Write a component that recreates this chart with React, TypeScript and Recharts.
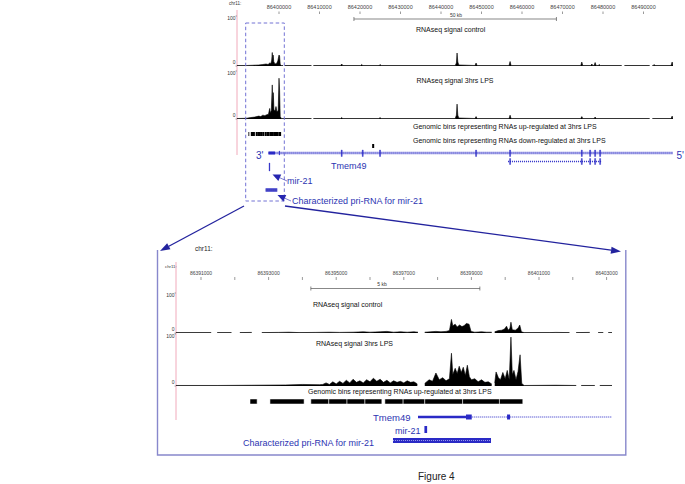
import React from "react";
import { ComposedChart, Area, XAxis, YAxis, ReferenceArea, ReferenceLine } from "recharts";

// ---------------- data ----------------
// genomic windows (chr11)
const topDomain = [86389630, 86497280];
const botDomain = [86390260, 86403160];

const topTicks = [86400000, 86410000, 86420000, 86430000, 86440000, 86450000, 86460000, 86470000, 86480000, 86490000];
const topTickLabels = topTicks;
const botTicks = [86391000, 86392000, 86393000, 86394000, 86395000, 86396000, 86397000, 86398000, 86399000, 86400000, 86401000, 86402000, 86403000];
const botTickLabels = [86391000, 86393000, 86395000, 86397000, 86399000, 86401000, 86403000];

const topScaleBar = [86418500, 86468500]; // 50 kb
const botScaleBar = [86394250, 86399250]; // 5 kb

// RNAseq signal, [position, value 0-100]; null = no coverage
const topCtrl: [number, number | null][] = [
  [86389630, 1], [86392000, 1], [86393500, 1.5], [86395000, 2], [86396000, 3], [86396800, 4], [86397300, 3],
  [86397700, 6], [86398000, 5], [86398200, 12], [86398340, 27], [86398450, 10], [86398550, 22], [86398700, 9],
  [86399000, 4], [86399400, 5], [86399700, 10], [86400000, 22], [86400150, 20], [86400300, 3], [86400600, 1],
  [86401000, 1], [86401100, null], [86401400, 1], [86408000, 1], [86408200, null], [86408500, 1],
  [86415200, 1], [86415485, 4], [86415750, 1], [86420150, 1], [86420425, 3], [86420700, 1],
  [86424700, 1], [86424945, 3], [86425200, 1], [86443500, 1], [86443800, 6], [86443964, 26], [86444150, 8],
  [86444400, 2], [86448400, 1], [86448657, 6], [86448900, 1], [86456800, 1], [86457055, 9], [86457300, 1],
  [86474500, 1], [86474765, 8], [86475000, 1], [86477000, 1], [86477235, 4], [86477500, 1], [86477800, 1],
  [86478050, 7], [86478300, 1], [86478800, 1], [86479038, 3], [86479300, 1], [86484600, 1], [86484700, null],
  [86485300, 1], [86491500, 1], [86491600, null], [86492200, 1], [86492400, 1], [86492623, 3], [86492850, 1],
  [86496800, 1], [86497069, 8], [86497280, 1],
];
const topLps: [number, number | null][] = [
  [86389630, 1], [86392000, 1.5], [86393000, 3], [86394000, 4], [86395000, 6], [86395500, 5], [86396000, 8],
  [86396500, 7], [86397000, 9], [86397400, 10], [86397700, 22], [86397900, 12], [86398100, 18], [86398340, 71],
  [86398450, 30], [86398590, 55], [86398750, 20], [86399000, 16], [86399257, 26], [86399500, 15], [86399800, 18],
  [86400000, 85], [86400150, 60], [86400300, 5], [86400600, 1], [86408000, 1], [86408200, null], [86408500, 1],
  [86415200, 1], [86415485, 3], [86415750, 1], [86424700, 1], [86424945, 3], [86425200, 1],
  [86443500, 1], [86443800, 8], [86443964, 31], [86444150, 8], [86444400, 2], [86448400, 1], [86448657, 5],
  [86448900, 1], [86456800, 1], [86457055, 8], [86457300, 1], [86474500, 1], [86474765, 5], [86475000, 1],
  [86477800, 1], [86478050, 4], [86478300, 1], [86491500, 1], [86491600, null], [86492200, 1],
  [86496800, 1], [86497069, 6], [86497280, 1],
];
const botCtrl: [number, number | null][] = [
  [86390260, 1], [86391300, 1], [86391350, null], [86391480, 1], [86391900, 1], [86392000, null], [86392150, 1],
  [86392500, 1.5], [86392700, null], [86392800, 1], [86393300, 1.5], [86393600, 2], [86393900, 1], [86394400, 1.5],
  [86394800, 2], [86395100, 1.5], [86395500, 2], [86395800, 3], [86396000, 2], [86396300, 3], [86396500, 4],
  [86396700, 2], [86396900, 3], [86397100, 2], [86397300, 3], [86397420, 2], [86397450, null], [86397620, 2],
  [86397800, 3], [86397950, 4], [86398100, 3], [86398250, 4], [86398350, 6], [86398410, 34], [86398450, 18],
  [86398520, 22], [86398580, 15], [86398650, 20], [86398720, 16], [86398780, 18], [86398850, 24], [86398930, 22],
  [86398990, 4], [86399100, 2], [86399300, 3], [86399450, 2], [86399600, 2], [86399630, null], [86399690, 3],
  [86399800, 6], [86399900, 7], [86399980, 10], [86400040, 17], [86400090, 7], [86400140, 12], [86400170, 27],
  [86400210, 8], [86400300, 7], [86400380, 12], [86400430, 20], [86400480, 3], [86400560, 1], [86401300, 1],
  [86401500, 1.5], [86401900, 1], [86402000, null], [86402100, 1], [86402500, 1.5], [86402600, null],
  [86402750, 1], [86402900, 1], [86402950, null], [86403050, 1], [86403160, 1],
];
const botLps: [number, number | null][] = [
  [86390260, 1], [86391500, 1], [86392500, 1.5], [86393500, 2], [86394000, 3], [86394500, 2.5], [86394600, 3],
  [86394700, 6], [86394800, 3], [86394900, 8], [86395000, 4], [86395100, 9], [86395200, 5], [86395300, 11],
  [86395400, 6], [86395500, 13], [86395600, 7], [86395700, 10], [86395800, 6], [86395900, 12], [86396000, 8],
  [86396100, 15], [86396200, 9], [86396300, 13], [86396400, 7], [86396500, 11], [86396600, 6], [86396700, 10],
  [86396800, 7], [86396900, 9], [86397000, 6], [86397100, 10], [86397200, 7], [86397300, 8],
  [86397400, 4], [86397440, null], [86397620, 5], [86397750, 12], [86397850, 9], [86397950, 25], [86398050, 12],
  [86398150, 16], [86398250, 10], [86398350, 14], [86398410, 63], [86398450, 22], [86398520, 34], [86398580, 24],
  [86398640, 38], [86398700, 26], [86398760, 36], [86398820, 20], [86398880, 40], [86398940, 18], [86399000, 12],
  [86399100, 14], [86399200, 8], [86399300, 12], [86399400, 7], [86399500, 8], [86399600, 4], [86399640, null],
  [86399690, 6], [86399730, 27], [86399800, 16], [86399860, 12], [86399930, 26], [86400000, 14], [86400060, 30],
  [86400120, 12], [86400170, 94], [86400210, 22], [86400260, 30], [86400320, 12], [86400380, 28], [86400440, 60],
  [86400490, 5], [86400560, 1], [86401500, 1.5], [86402100, 1], [86402150, null], [86402250, 1], [86402650, 1],
  [86402700, null], [86402800, 1], [86403160, 1],
];

// genomic bins (up / down regulated at 3hrs LPS)
const upBins: [number, number][] = [
  [86392450, 86392660], [86393040, 86394050], [86394250, 86394780], [86394780, 86395320], [86395320, 86395850],
  [86395850, 86396350], [86396440, 86396980], [86396980, 86397620], [86397620, 86398740], [86398740, 86399830],
  [86399830, 86400520],
];
const downBins: [number, number][] = [[86423000, 86423500]];

// Tmem49 gene model
const tmemStart = 86397420;
const tmemUtr: [number, number] = [86397420, 86398840];
const tmemCds: [number, number][] = [[86398840, 86399010], [86400055, 86400145]];
const tmemExonsTop = [86415485, 86420672, 86424945, 86448657, 86457055, 86474765, 86476815, 86478050, 86479285];
const tmemAlt: [number, number] = [86456561, 86479532];
const tmemAltExons = [86457055, 86474765, 86476815, 86478050, 86479285];
const mir21: [number, number] = [86397610, 86397690];
const priRna: [number, number] = [86396680, 86399580];

// ---------------- style ----------------
const FONT = "'Liberation Sans', Arial, Helvetica, sans-serif";
const BLUE = "#2a2ac6";
const TBLUE = "#2c34b2";
const PINK = "#f1aabb";
const W = 685;

const YTick = (props: any) => {
  const { x, y, payload } = props;
  const dy = payload.value === 0 ? -2 : 3.6;
  return (
    <g>
      <text x={x - 1.5} y={y + dy} textAnchor="end" fontSize={5} fill="#333" fontFamily={FONT}>{payload.value}</text>
      <line x1={x - 1.5} x2={x} y1={y} y2={y} stroke="#555" strokeWidth={0.5} />
    </g>
  );
};

const makeRulerTick = (labels: number[], labelY: number, t1: number, t2: number, fs: number) => (props: any) => {
  const { x, payload } = props;
  const v = payload.value;
  return (
    <g>
      <line x1={x} x2={x} y1={t1} y2={t2} stroke="#555" strokeWidth={0.6} />
      {labels.includes(v) && (
        <text x={x} y={labelY} textAnchor="middle" fontSize={fs} fill="#444" fontFamily={FONT}>{v}</text>
      )}
    </g>
  );
};
const TopRulerTick = makeRulerTick(topTickLabels, 8.8, 11.5, 14, 5.5);
const BotRulerTick = makeRulerTick(botTickLabels, 275, 277, 280, 5);

function Signal({ data, top, height, left, right, domain }: any) {
  const rows = data.map(([pos, v]: [number, number | null]) => ({ pos, v }));
  return (
    <div style={{ position: "absolute", left: 0, top, width: W, height }}>
      <ComposedChart width={W} height={height} data={rows} margin={{ top: 6, right, bottom: 4, left: 0 }}>
        <XAxis dataKey="pos" type="number" domain={domain} hide allowDataOverflow />
        <YAxis type="number" domain={[0, 100]} ticks={[0, 100]} width={left} tick={YTick} axisLine={false}
          tickLine={false} tickSize={0} tickMargin={0} interval={0} allowDataOverflow />
        <Area dataKey="v" type="linear" stroke="#000" strokeWidth={0.6} fill="#000" fillOpacity={1}
          isAnimationActive={false} connectNulls={false} dot={false} activeDot={false} />
      </ComposedChart>
    </div>
  );
}

function Arrow({ x1, y1, x2, y2, color, head = 9, w = 7, sw = 1.2 }: any) {
  const dx = x2 - x1, dy = y2 - y1, L = Math.hypot(dx, dy), ux = dx / L, uy = dy / L;
  const bx = x2 - ux * head, by = y2 - uy * head;
  const px = (-uy * w) / 2, py = (ux * w) / 2;
  return (
    <g>
      <line x1={x1} y1={y1} x2={bx} y2={by} stroke={color} strokeWidth={sw} />
      <polygon points={`${x2},${y2} ${bx + px},${by + py} ${bx - px},${by - py}`} fill={color} />
    </g>
  );
}

const T = ({ x, y, fs = 7, fill = "#111", children, anchor = "start" }: any) => (
  <text x={x} y={y} fontSize={fs} fill={fill} fontFamily={FONT} textAnchor={anchor}>{children}</text>
);

export default function App() {
  return (
    <div style={{ position: "absolute", left: 0, top: 0, width: W, height: 484, background: "#fff", fontFamily: FONT, overflow: "hidden" }}>
      {/* ---------- top panel frame ---------- */}
      <div style={{ position: "absolute", left: 0, top: 0, width: W, height: 215 }}>
        <ComposedChart width={W} height={215} margin={{ top: 0, right: 12, bottom: 0, left: 237 }}>
          <XAxis type="number" dataKey="pos" orientation="top" height={1} domain={topDomain} ticks={topTicks}
            interval={0} tick={TopRulerTick} axisLine={false} tickLine={false} tickSize={0} tickMargin={0} allowDataOverflow />
          <YAxis type="number" domain={[1, 215]} reversed hide allowDataOverflow />
          <ReferenceLine segment={[{ x: topDomain[0], y: 10 }, { x: topDomain[0], y: 155 }]} stroke={PINK} strokeWidth={1} />
          <ReferenceLine segment={[{ x: topScaleBar[0], y: 19 }, { x: topScaleBar[1], y: 19 }]} stroke="#555" strokeWidth={0.7} />
          <ReferenceLine segment={[{ x: topScaleBar[0], y: 17 }, { x: topScaleBar[0], y: 21 }]} stroke="#555" strokeWidth={0.7} />
          <ReferenceLine segment={[{ x: topScaleBar[1], y: 17 }, { x: topScaleBar[1], y: 21 }]} stroke="#555" strokeWidth={0.7} />
          {upBins.map(([a, b], i) => (
            <ReferenceArea key={"ub" + i} x1={a} x2={b} y1={132} y2={136} fill="#000" fillOpacity={1} stroke="none" />
          ))}
          {downBins.map(([a, b], i) => (
            <ReferenceArea key={"db" + i} x1={a} x2={b} y1={144} y2={148} fill="#000" fillOpacity={1} stroke="none" />
          ))}
          <ReferenceLine segment={[{ x: tmemStart, y: 153 }, { x: topDomain[1], y: 153 }]} stroke={BLUE} strokeWidth={2.4} strokeDasharray="1 1" />
          <ReferenceArea x1={tmemUtr[0]} x2={tmemCds[0][1]} y1={151.5} y2={154.5} fill={BLUE} fillOpacity={1} stroke="none" />
          <ReferenceArea x1={tmemCds[1][0]} x2={tmemCds[1][1]} y1={151} y2={155} fill={BLUE} fillOpacity={1} stroke={BLUE} strokeWidth={0.6} />
          {tmemExonsTop.map((p, i) => (
            <ReferenceArea key={"te" + i} x1={p - 120} x2={p + 120} y1={150} y2={156.5} fill={BLUE} fillOpacity={1} stroke={BLUE} strokeWidth={0.4} />
          ))}
          <ReferenceLine segment={[{ x: tmemAlt[0], y: 161.5 }, { x: tmemAlt[1], y: 161.5 }]} stroke={BLUE} strokeWidth={1.6} strokeDasharray="1 1" />
          {tmemAltExons.map((p, i) => (
            <ReferenceArea key={"ta" + i} x1={p - 120} x2={p + 120} y1={158.5} y2={164.5} fill={BLUE} fillOpacity={1} stroke={BLUE} strokeWidth={0.4} />
          ))}
          <ReferenceArea x1={mir21[0]} x2={mir21[1]} y1={163} y2={171} fill={BLUE} fillOpacity={1} stroke={BLUE} strokeWidth={0.8} />
          <ReferenceArea x1={priRna[0]} x2={priRna[1]} y1={188.3} y2={191.7} fill={BLUE} fillOpacity={1} stroke="none" />
          <ReferenceLine segment={[{ x: priRna[0], y: 190 }, { x: priRna[1], y: 190 }]} stroke="#aab" strokeWidth={0.8} strokeDasharray="1 1" />
        </ComposedChart>
      </div>

      <Signal data={topCtrl} top={10} height={60} left={237} right={12} domain={topDomain} />
      <Signal data={topLps} top={65} height={58} left={237} right={12} domain={topDomain} />

      {/* ---------- bottom panel frame ---------- */}
      <div style={{ position: "absolute", left: 0, top: 0, width: W, height: 460 }}>
        <ComposedChart width={W} height={460} margin={{ top: 250, right: 73, bottom: 0, left: 176 }}>
          <XAxis type="number" dataKey="pos" orientation="top" height={1} domain={botDomain} ticks={botTicks}
            interval={0} tick={BotRulerTick} axisLine={false} tickLine={false} tickSize={0} tickMargin={0} allowDataOverflow />
          <YAxis type="number" domain={[251, 460]} reversed hide allowDataOverflow />
          <ReferenceLine segment={[{ x: botDomain[0], y: 262 }, { x: botDomain[0], y: 420 }]} stroke={PINK} strokeWidth={1} />
          <ReferenceLine segment={[{ x: botScaleBar[0], y: 288.5 }, { x: botScaleBar[1], y: 288.5 }]} stroke="#555" strokeWidth={0.7} />
          <ReferenceLine segment={[{ x: botScaleBar[0], y: 286.5 }, { x: botScaleBar[0], y: 290.5 }]} stroke="#555" strokeWidth={0.7} />
          <ReferenceLine segment={[{ x: botScaleBar[1], y: 286.5 }, { x: botScaleBar[1], y: 290.5 }]} stroke="#555" strokeWidth={0.7} />
          {upBins.map(([a, b], i) => (
            <ReferenceArea key={"bub" + i} x1={a} x2={b} y1={399} y2={404} fill="#000" fillOpacity={1} stroke="#fff" strokeWidth={0.5} />
          ))}
          <ReferenceLine segment={[{ x: tmemCds[0][1], y: 417 }, { x: botDomain[1], y: 417 }]} stroke={BLUE} strokeWidth={1} strokeDasharray="1 1" />
          <ReferenceArea x1={tmemUtr[0]} x2={tmemUtr[1]} y1={415.8} y2={418.2} fill={BLUE} fillOpacity={1} stroke="none" />
          {tmemCds.map(([a, b], i) => (
            <ReferenceArea key={"bc" + i} x1={a} x2={b} y1={414.5} y2={419.5} fill={BLUE} fillOpacity={1} stroke="none" />
          ))}
          <ReferenceArea x1={mir21[0]} x2={mir21[1]} y1={426} y2={433} fill={BLUE} fillOpacity={1} stroke="none" />
          <ReferenceArea x1={priRna[0]} x2={priRna[1]} y1={438} y2={443} fill={BLUE} fillOpacity={1} stroke="none" />
          <ReferenceLine segment={[{ x: priRna[0], y: 440.5 }, { x: priRna[1], y: 440.5 }]} stroke="#9a9ae8" strokeWidth={1} strokeDasharray="1 1" />
        </ComposedChart>
      </div>

      <Signal data={botCtrl} top={287} height={50} left={176} right={73} domain={botDomain} />
      <Signal data={botLps} top={328} height={62} left={176} right={73} domain={botDomain} />

      {/* ---------- annotations ---------- */}
      <svg width={W} height={484} style={{ position: "absolute", left: 0, top: 0, pointerEvents: "none" }}>
        <T x={229} y={5} fs={4.5} fill="#333">chr11:</T>
        <T x={456} y={17} fs={5} fill="#333" anchor="middle">50 kb</T>
        <T x={416} y={31.5}>RNAseq signal control</T>
        <T x={416.5} y={82.5}>RNAseq signal 3hrs LPS</T>
        <T x={413} y={129.3}>Genomic bins representing RNAs up-regulated at 3hrs LPS</T>
        <T x={413} y={142.5}>Genomic bins representing RNAs down-regulated at 3hrs LPS</T>
        <T x={256} y={158.5} fs={10} fill={TBLUE}>3'</T>
        <T x={676.5} y={159} fs={10} fill={TBLUE}>5'</T>
        <T x={331} y={169.3} fs={9} fill={TBLUE}>Tmem49</T>
        <T x={287} y={184} fs={9} fill={TBLUE}>mir-21</T>
        <T x={292} y={203.5} fs={9} fill={TBLUE}>Characterized pri-RNA for mir-21</T>

        <rect x={245.7} y={23} width={38.6} height={178} fill="none" stroke="#7272d4" strokeWidth={1} strokeDasharray="3.5 2.5" />
        <Arrow x1={287} y1={181} x2={272.5} y2={174.5} color="#2626b0" head={8} w={7} sw={0.6} />
        <Arrow x1={291} y1={201} x2={277.5} y2={195} color="#2626b0" head={8} w={7} sw={0.6} />

        <Arrow x1={244} y1={206} x2={160} y2={251} color="#23239e" head={10} w={7} sw={1.3} />
        <Arrow x1={285} y1={206} x2={621} y2={251.5} color="#23239e" head={10} w={7} sw={1.3} />

        <polyline points="157.5,250 157.5,455 625.8,455 625.8,250" fill="none" stroke="#8888cc" strokeWidth={1.4} />

        <T x={195} y={250.5} fs={6.5} fill="#222">chr11:</T>
        <T x={165} y={268} fs={4.3} fill="#333">chr11:</T>
        <T x={382} y={286.3} fs={5} fill="#333" anchor="middle">5 kb</T>
        <T x={313} y={306.5}>RNAseq signal control</T>
        <T x={316} y={345.5}>RNAseq signal 3hrs LPS</T>
        <T x={308} y={393.5}>Genomic bins representing RNAs up-regulated at 3hrs LPS</T>
        <T x={373} y={420.5} fs={9.5} fill={TBLUE}>Tmem49</T>
        <T x={395} y={434.2} fs={9} fill={TBLUE}>mir-21</T>
        <T x={243} y={446} fs={9} fill={TBLUE}>Characterized pri-RNA for mir-21</T>
        <T x={418} y={479.5} fs={10} fill="#222">Figure 4</T>
      </svg>
    </div>
  );
}
